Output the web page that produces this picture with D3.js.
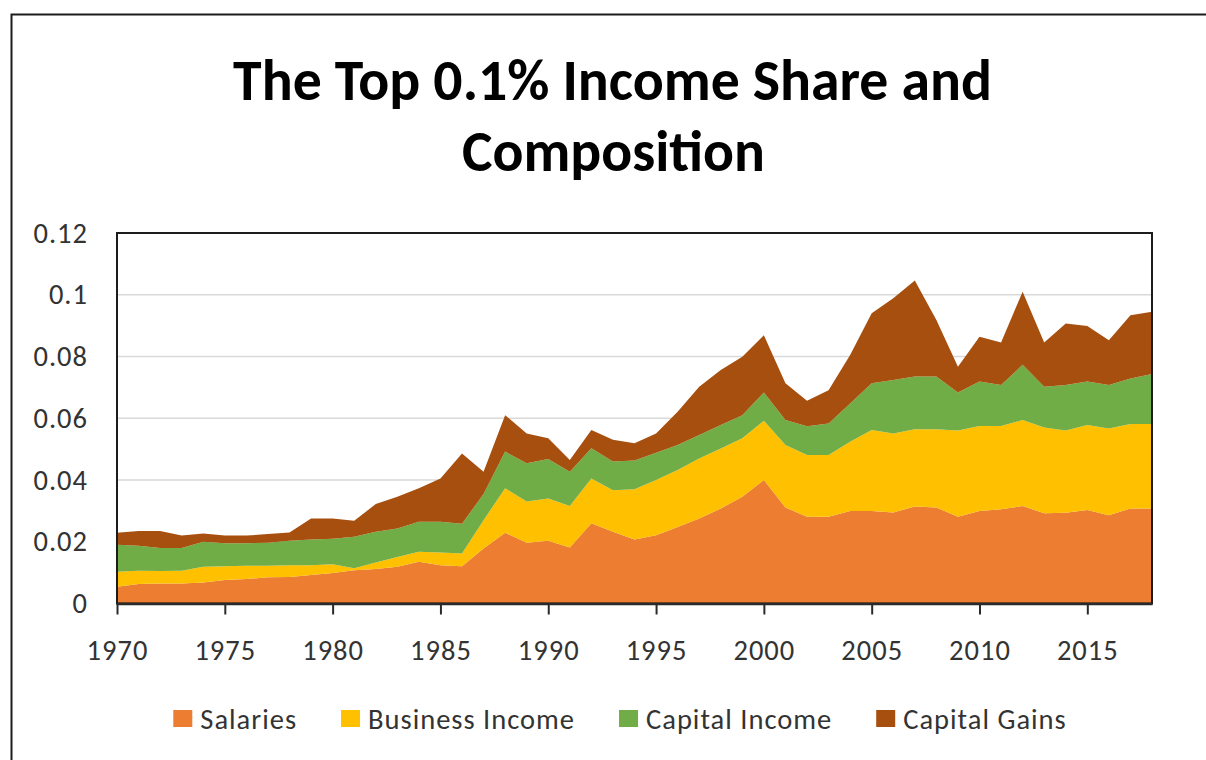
<!DOCTYPE html>
<html>
<head>
<meta charset="utf-8">
<script src="https://cdn.jsdelivr.net/npm/d3@7"></script>
<style>
  html, body { margin: 0; padding: 0; background: #fff; }
  svg { display: block; }
</style>
</head>
<body>
<svg id="chart" width="1206" height="760"></svg>
<script>
// Top 0.1% income share by component, 1970-2018
const years = [1970, 1971, 1972, 1973, 1974, 1975, 1976, 1977, 1978, 1979,
               1980, 1981, 1982, 1983, 1984, 1985, 1986, 1987, 1988, 1989,
               1990, 1991, 1992, 1993, 1994, 1995, 1996, 1997, 1998, 1999,
               2000, 2001, 2002, 2003, 2004, 2005, 2006, 2007, 2008, 2009,
               2010, 2011, 2012, 2013, 2014, 2015, 2016, 2017, 2018];

const salaries = [0.0054, 0.0063, 0.0065, 0.0065, 0.0068, 0.0076, 0.0079, 0.0085, 0.0086, 0.0092,
                  0.0099, 0.0108, 0.0112, 0.0119, 0.0135, 0.0124, 0.0121, 0.0178, 0.0229, 0.0197,
                  0.0203, 0.0181, 0.0260, 0.0232, 0.0207, 0.0221, 0.0248, 0.0275, 0.0308, 0.0346,
                  0.0400, 0.0311, 0.0281, 0.0281, 0.0300, 0.0300, 0.0295, 0.0314, 0.0311, 0.0281,
                  0.0300, 0.0305, 0.0316, 0.0292, 0.0294, 0.0303, 0.0286, 0.0308, 0.0308];

const businessIncome = [0.0049, 0.0043, 0.0040, 0.0041, 0.0051, 0.0045, 0.0043, 0.0037, 0.0038, 0.0032,
                        0.0028, 0.0006, 0.0021, 0.0032, 0.0033, 0.0041, 0.0041, 0.0092, 0.0144, 0.0133,
                        0.0137, 0.0135, 0.0145, 0.0135, 0.0163, 0.0179, 0.0184, 0.0195, 0.0194, 0.0189,
                        0.0192, 0.0202, 0.0200, 0.0200, 0.0224, 0.0262, 0.0256, 0.0250, 0.0253, 0.0279,
                        0.0275, 0.0270, 0.0278, 0.0278, 0.0266, 0.0275, 0.0281, 0.0273, 0.0273];

const capitalIncome = [0.0087, 0.0081, 0.0075, 0.0074, 0.0081, 0.0074, 0.0073, 0.0075, 0.0079, 0.0083,
                       0.0083, 0.0102, 0.0099, 0.0092, 0.0097, 0.0100, 0.0096, 0.0085, 0.0119, 0.0124,
                       0.0128, 0.0111, 0.0098, 0.0093, 0.0093, 0.0088, 0.0081, 0.0076, 0.0076, 0.0075,
                       0.0091, 0.0081, 0.0093, 0.0102, 0.0124, 0.0151, 0.0173, 0.0171, 0.0171, 0.0123,
                       0.0144, 0.0133, 0.0179, 0.0132, 0.0148, 0.0141, 0.0141, 0.0148, 0.0162];

const capitalGains = [0.0039, 0.0048, 0.0055, 0.0040, 0.0027, 0.0025, 0.0025, 0.0028, 0.0027, 0.0068,
                      0.0065, 0.0052, 0.0090, 0.0103, 0.0108, 0.0140, 0.0228, 0.0072, 0.0118, 0.0097,
                      0.0067, 0.0038, 0.0059, 0.0070, 0.0056, 0.0063, 0.0108, 0.0156, 0.0178, 0.0189,
                      0.0186, 0.0119, 0.0083, 0.0108, 0.0157, 0.0227, 0.0265, 0.0311, 0.0183, 0.0084,
                      0.0145, 0.0137, 0.0237, 0.0143, 0.0199, 0.0180, 0.0145, 0.0205, 0.0202];

const seriesNames = ["Salaries", "Business Income", "Capital Income", "Capital Gains"];
const seriesColors = ["#ED7D31", "#FFC000", "#70AD47", "#A64F0F"];
const yTickValues = [0, 0.02, 0.04, 0.06, 0.08, 0.1, 0.12];
const xTickValues = [1970, 1975, 1980, 1985, 1990, 1995, 2000, 2005, 2010, 2015];
const titleLines = ["The Top 0.1% Income Share and", "Composition"];

const W = 1206, H = 760;
const FONT = "Carlito, Calibri, Lato, 'Open Sans', sans-serif";
const TEXT_COLOR = "#333333";
const LABEL_SIZE = 28.5;
const LABEL_SPACING = 1;
const plot = { left: 117, right: 1152, top: 233, bottom: 603.5 };

const svg = d3.select("#chart");
svg.append("rect").attr("width", W).attr("height", H).attr("fill", "#fff");

// chart frame (runs off the right and bottom edges)
svg.append("rect")
  .attr("x", 11.5).attr("y", 14.5)
  .attr("width", 1300).attr("height", 900)
  .attr("fill", "none").attr("stroke", "#1c1c1c").attr("stroke-width", 2);

// scale a text element's font size so it spans the given width
function fitWidth(sel, target) {
  const w = sel.node().getComputedTextLength();
  const fs = parseFloat(sel.attr("font-size"));
  sel.attr("font-size", (fs * target / w).toFixed(2));
}

// title
const titleSpecs = [
  { cx: 612.5, baseline: 100, width: 759 },
  { cx: 613.5, baseline: 171, width: 303 }
];
titleLines.forEach((line, i) => {
  const t = svg.append("text")
    .attr("x", titleSpecs[i].cx).attr("y", titleSpecs[i].baseline)
    .attr("text-anchor", "middle")
    .attr("font-family", FONT).attr("font-weight", "bold")
    .attr("font-size", 48).attr("fill", "#000")
    .text(line);
  fitWidth(t, titleSpecs[i].width);
});

const x = d3.scaleLinear().domain([years[0], years[years.length - 1]]).range([plot.left, plot.right]);
const y = d3.scaleLinear().domain([0, 0.12]).range([plot.bottom, plot.top]);

// horizontal gridlines
svg.append("g").selectAll("line")
  .data(yTickValues.filter(v => v > 0 && v < 0.12))
  .join("line")
  .attr("x1", plot.left).attr("x2", plot.right)
  .attr("y1", d => y(d)).attr("y2", d => y(d))
  .attr("stroke", "#d9d9d9").attr("stroke-width", 1.5);

// stacked areas
const table = years.map((yr, i) => ({
  year: yr,
  "Salaries": salaries[i],
  "Business Income": businessIncome[i],
  "Capital Income": capitalIncome[i],
  "Capital Gains": capitalGains[i]
}));
const layers = d3.stack().keys(seriesNames)(table);
const area = d3.area()
  .x(d => x(d.data.year))
  .y0(d => y(d[0]))
  .y1(d => y(d[1]));
svg.append("g").selectAll("path")
  .data(layers)
  .join("path")
  .attr("d", area)
  .attr("fill", (d, i) => seriesColors[i]);

// plot area border
svg.append("rect")
  .attr("x", plot.left).attr("y", plot.top)
  .attr("width", plot.right - plot.left).attr("height", plot.bottom - plot.top)
  .attr("fill", "none").attr("stroke", "#1c1c1c").attr("stroke-width", 2);

// y axis labels
const yAxis = d3.axisLeft(y)
  .tickValues(yTickValues)
  .tickFormat(d => String(+d.toFixed(2)))
  .tickSize(0).tickPadding(29);
const gy = svg.append("g").attr("transform", `translate(${plot.left},0)`).call(yAxis);
gy.select(".domain").remove();
gy.selectAll("text")
  .attr("font-family", FONT).attr("font-size", LABEL_SIZE)
  .attr("letter-spacing", LABEL_SPACING).attr("fill", TEXT_COLOR);

// x axis
const xAxis = d3.axisBottom(x)
  .tickValues(xTickValues)
  .tickFormat(d3.format("d"))
  .tickSize(11).tickSizeOuter(0).tickPadding(25);
const gx = svg.append("g").attr("transform", `translate(0,${plot.bottom})`).call(xAxis);
gx.select(".domain").attr("stroke", "#2a2a2a").attr("stroke-width", 2.5);
gx.selectAll(".tick line").attr("stroke", "#2a2a2a").attr("stroke-width", 2);
gx.selectAll("text")
  .attr("font-family", FONT).attr("font-size", LABEL_SIZE)
  .attr("letter-spacing", LABEL_SPACING).attr("fill", TEXT_COLOR);

// legend
const legend = svg.append("g");
const items = legend.selectAll("g").data(seriesNames).join("g");
items.append("rect")
  .attr("width", 19).attr("height", 17).attr("y", -19)
  .attr("fill", (d, i) => seriesColors[i]);
items.append("text")
  .attr("x", 27).attr("y", 0)
  .attr("font-family", FONT).attr("font-size", LABEL_SIZE)
  .attr("letter-spacing", LABEL_SPACING).attr("fill", TEXT_COLOR)
  .text(d => d);
let cursor = 0;
items.each(function () {
  const g = d3.select(this);
  g.attr("transform", `translate(${cursor},0)`);
  cursor += 27 + g.select("text").node().getComputedTextLength() + 44;
});
const legendWidth = cursor - 44;
legend.attr("transform", `translate(${620 - legendWidth / 2},729)`);
</script>
</body>
</html>
